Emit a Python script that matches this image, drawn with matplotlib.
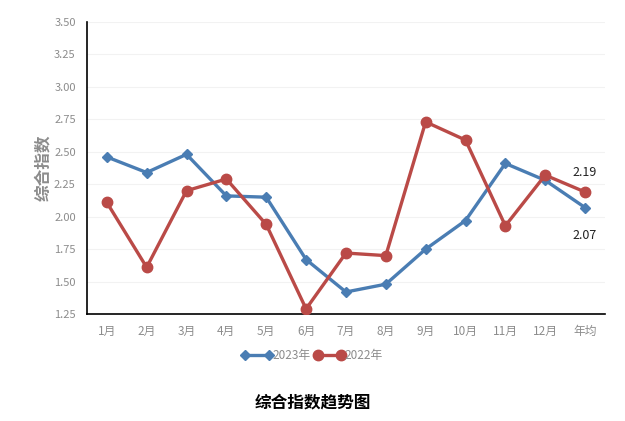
import matplotlib
matplotlib.use("Agg")
import matplotlib.pyplot as plt
from matplotlib.lines import Line2D

plt.rcParams['font.family'] = ['Noto Sans CJK SC', 'DejaVu Sans']

categories = ["1月", "2月", "3月", "4月", "5月", "6月", "7月", "8月", "9月", "10月", "11月", "12月", "年均"]
s2023 = [2.46, 2.34, 2.48, 2.16, 2.15, 1.67, 1.42, 1.48, 1.75, 1.97, 2.41, 2.28, 2.07]
s2022 = [2.11, 1.61, 2.20, 2.29, 1.94, 1.29, 1.72, 1.70, 2.73, 2.59, 1.93, 2.32, 2.19]
yticks = [1.25, 1.50, 1.75, 2.00, 2.25, 2.50, 2.75, 3.00, 3.25, 3.50]

blue = "#4A7DB3"
red = "#BA4A47"
gray = "#8C8C8C"

fig = plt.figure(figsize=(6.25, 4.21), dpi=100)
ax = fig.add_axes([0.139, 0.254, 0.829, 0.694])
x = list(range(len(categories)))

ax.plot(x, s2023, color=blue, lw=2.4, marker="D", ms=5, zorder=3)
ax.plot(x, s2022, color=red, lw=2.4, marker="o", ms=7.5, zorder=4)

ax.set_xlim(-0.5, len(categories) - 0.5)
ax.set_ylim(1.25, 3.5)
ax.set_yticks(yticks)
ax.set_yticklabels([f"{v:.2f}" for v in yticks], color=gray, fontsize=8)
ax.set_xticks(x)
ax.set_xticklabels(categories, color=gray, fontsize=8.5)
ax.tick_params(length=0, pad=8)
ax.tick_params(axis='y', pad=8)
ax.grid(axis='y', color="#F2F2F2", lw=0.8)
ax.set_axisbelow(True)
for s in ["top", "right"]:
    ax.spines[s].set_visible(False)
ax.spines["left"].set_color("black")
ax.spines["bottom"].set_color("black")
ax.spines["left"].set_linewidth(1.2)
ax.spines["bottom"].set_linewidth(1.2)

ax.set_ylabel("综合指数", color=gray, fontsize=12, fontweight="bold", labelpad=1)

ax.annotate(f"{s2022[-1]:.2f}", (x[-1], s2022[-1]), xytext=(0, 14), textcoords="offset points",
            ha="center", va="center", fontsize=9, color="#222222")
ax.annotate(f"{s2023[-1]:.2f}", (x[-1], s2023[-1]), xytext=(0, -20), textcoords="offset points",
            ha="center", va="center", fontsize=9, color="#222222")

handles = [Line2D([], [], color=blue, lw=2.4, marker="D", ms=5),
           Line2D([], [], color=red, lw=2.4, marker="o", ms=7.5)]
leg = fig.legend(handles, ["2023年", "2022年"], loc="center", bbox_to_anchor=(0.5, 0.155),
                 ncol=2, frameon=False, fontsize=8.5, handlelength=2.6, handletextpad=0.0,
                 columnspacing=0.3, numpoints=2)
for t in leg.get_texts():
    t.set_color(gray)

fig.text(0.5, 0.043, "综合指数趋势图", ha="center", va="center", fontsize=12, fontweight="bold",
         color="black")

fig.savefig("out.png", dpi=100)
